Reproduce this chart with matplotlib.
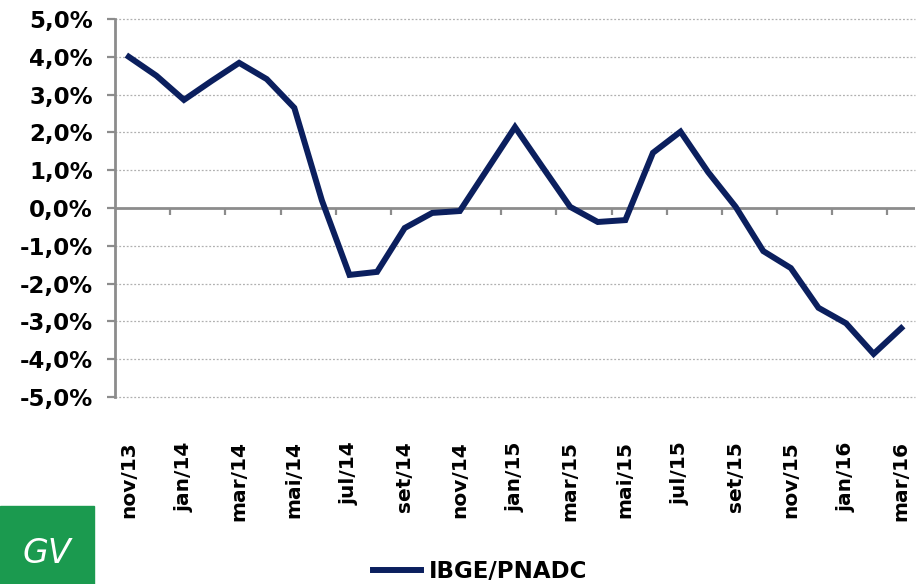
import numpy as np
import matplotlib
matplotlib.use('Agg')
import matplotlib.pyplot as plt
from matplotlib.patches import Rectangle

# data to plot
months = ['nov/13', 'dez/13', 'jan/14', 'fev/14', 'mar/14', 'abr/14', 'mai/14',
          'jun/14', 'jul/14', 'ago/14', 'set/14', 'out/14', 'nov/14', 'dez/14',
          'jan/15', 'fev/15', 'mar/15', 'abr/15', 'mai/15', 'jun/15', 'jul/15',
          'ago/15', 'set/15', 'out/15', 'nov/15', 'dez/15', 'jan/16', 'fev/16',
          'mar/16']
pnadc = [4.0, 3.5, 2.86, 3.36, 3.84, 3.41, 2.65, 0.2, -1.77, -1.69, -0.53,
         -0.13, -0.08, 1.03, 2.14, 1.08, 0.03, -0.37, -0.32, 1.46, 2.02, 0.95,
         0.03, -1.14, -1.59, -2.64, -3.05, -3.86, -3.18]
yticks = [-5, -4, -3, -2, -1, 0, 1, 2, 3, 4, 5]

plt.rcParams['font.family'] = 'DejaVu Sans'
plt.rcParams['font.weight'] = 'bold'

fig = plt.figure(figsize=(9.18, 5.84), dpi=100)
ax = fig.add_axes([115 / 918, 1 - 397 / 584, 800 / 918, 378 / 584])

gray = '#8c8c8c'
navy = '#0b1f5e'
x = np.arange(len(months))

# grid lines
for v in yticks:
    if v == 0:
        ax.axhline(0, color=gray, lw=2, zorder=2)
    else:
        ax.axhline(v, color='#b0b0b0', lw=0.9, ls=(0, (1.5, 1.5)), zorder=1,
                   clip_on=False)

# tick marks hanging off the zero line, every 2 categories
for k in range(2, len(months), 2):
    ax.plot([k - 0.5, k - 0.5], [0, -0.19], color=gray, lw=1.6, zorder=2,
            solid_capstyle='butt')

ax.plot(x, pnadc, color=navy, lw=4.3, label='IBGE/PNADC', zorder=3,
        solid_joinstyle='miter')

ax.set_xlim(-0.5, len(months) - 0.5)
ax.set_ylim(-5, 5)
ax.set_yticks(yticks)
ax.set_yticklabels(['%d,0%%' % v for v in yticks], fontsize=16.5,
                   fontweight='bold')
ax.set_xticks(x[::2])
ax.set_xticklabels(months[::2], rotation=90, fontsize=14.5, fontweight='bold')
ax.tick_params(axis='x', length=0, pad=32)
ax.tick_params(axis='y', length=6, width=1.6, color=gray, pad=10)

for s in ['top', 'right', 'bottom']:
    ax.spines[s].set_visible(False)
ax.spines['left'].set_color(gray)
ax.spines['left'].set_linewidth(2)

leg = ax.legend(loc='center', bbox_to_anchor=(480 / 918, 1 - 572 / 584),
                bbox_transform=fig.transFigure, frameon=False,
                handlelength=2.1, handletextpad=0.35, borderpad=0,
                prop={'size': 16.5, 'weight': 'bold'})

# logo block in the lower left corner
fig.add_artist(Rectangle((0, 0), 94 / 918, 78 / 584, transform=fig.transFigure,
                         color='#1b9a4f', zorder=0))
fig.text(47 / 918, 14 / 584, 'GV', color='white', fontsize=24,
         fontstyle='italic', fontweight='normal', ha='center', va='bottom')

plt.savefig('out.png', dpi=100)
